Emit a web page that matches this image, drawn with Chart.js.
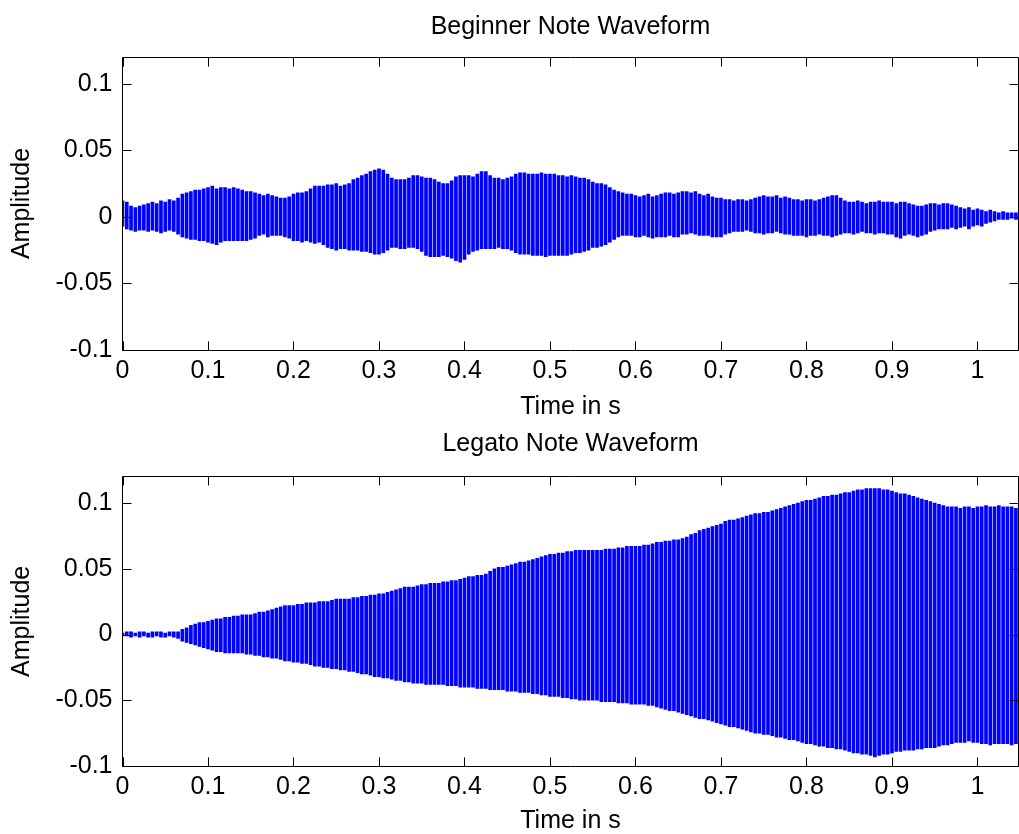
<!DOCTYPE html>
<html>
<head>
<meta charset="utf-8">
<title>Note Waveforms</title>
<script src="https://cdn.jsdelivr.net/npm/chart.js@4.4.1/dist/chart.umd.min.js"></script>
<style>
  html, body { margin: 0; padding: 0; background: #fff; }
  #wrap { position: relative; width: 1019px; height: 834px; }
  canvas { position: absolute; left: 0; }
</style>
</head>
<body>
<div id="wrap">
  <canvas id="beginner" width="1019" height="420" style="top:0"></canvas>
  <canvas id="legato" width="1019" height="414" style="top:420px"></canvas>
</div>
<script>
// upper / lower swing of each trace, every 5 ms
const sampleStep = 0.005;

const beginnerPeak = [
  0.012,0.011,0.008,0.007,0.008,0.009,0.010,0.011,0.010,0.012,0.011,0.013,0.012,0.014,0.017,0.018,0.019,0.020,0.020,0.021,
  0.022,0.023,0.021,0.022,0.022,0.021,0.022,0.021,0.020,0.019,0.019,0.018,0.017,0.016,0.017,0.016,0.015,0.014,0.014,0.015,
  0.017,0.018,0.018,0.019,0.021,0.023,0.023,0.023,0.024,0.024,0.025,0.023,0.024,0.025,0.028,0.029,0.031,0.032,0.034,0.035,
  0.036,0.035,0.032,0.029,0.028,0.028,0.028,0.029,0.031,0.031,0.030,0.029,0.029,0.028,0.026,0.025,0.025,0.027,0.030,0.031,
  0.031,0.031,0.030,0.032,0.034,0.034,0.031,0.029,0.029,0.028,0.029,0.030,0.032,0.033,0.033,0.032,0.032,0.032,0.033,0.032,
  0.032,0.032,0.031,0.031,0.030,0.031,0.030,0.029,0.029,0.028,0.026,0.025,0.025,0.024,0.022,0.020,0.019,0.018,0.017,0.017,
  0.016,0.015,0.016,0.017,0.015,0.016,0.017,0.018,0.018,0.017,0.018,0.019,0.019,0.018,0.019,0.017,0.016,0.017,0.015,0.014,
  0.014,0.013,0.013,0.012,0.013,0.013,0.012,0.013,0.014,0.015,0.016,0.015,0.015,0.016,0.014,0.015,0.014,0.013,0.013,0.012,
  0.013,0.013,0.012,0.013,0.014,0.015,0.016,0.016,0.014,0.012,0.011,0.011,0.012,0.011,0.010,0.011,0.011,0.012,0.011,0.011,
  0.011,0.010,0.011,0.011,0.010,0.009,0.008,0.008,0.009,0.010,0.010,0.009,0.010,0.010,0.009,0.008,0.007,0.006,0.007,0.005,
  0.006,0.005,0.004,0.005,0.004,0.003,0.004,0.003,0.003,0.003
];
const beginnerTrough = [
  -0.007,-0.009,-0.010,-0.011,-0.010,-0.010,-0.011,-0.010,-0.011,-0.012,-0.011,-0.010,-0.011,-0.013,-0.015,-0.016,-0.017,-0.017,-0.018,-0.018,
  -0.019,-0.020,-0.021,-0.019,-0.018,-0.018,-0.018,-0.018,-0.018,-0.018,-0.017,-0.016,-0.014,-0.013,-0.015,-0.014,-0.014,-0.014,-0.015,-0.016,
  -0.018,-0.018,-0.019,-0.018,-0.019,-0.020,-0.019,-0.021,-0.023,-0.024,-0.025,-0.024,-0.024,-0.025,-0.025,-0.025,-0.026,-0.026,-0.027,-0.028,
  -0.028,-0.027,-0.025,-0.023,-0.023,-0.024,-0.024,-0.023,-0.023,-0.024,-0.026,-0.029,-0.030,-0.030,-0.030,-0.029,-0.030,-0.031,-0.033,-0.034,
  -0.032,-0.028,-0.026,-0.025,-0.024,-0.024,-0.024,-0.024,-0.023,-0.024,-0.024,-0.025,-0.027,-0.028,-0.028,-0.028,-0.029,-0.029,-0.029,-0.030,
  -0.029,-0.029,-0.029,-0.029,-0.029,-0.028,-0.027,-0.027,-0.026,-0.025,-0.023,-0.023,-0.022,-0.021,-0.019,-0.017,-0.015,-0.014,-0.014,-0.014,
  -0.015,-0.015,-0.014,-0.015,-0.016,-0.015,-0.015,-0.015,-0.014,-0.015,-0.015,-0.013,-0.013,-0.012,-0.013,-0.014,-0.014,-0.014,-0.015,-0.015,
  -0.015,-0.013,-0.012,-0.011,-0.011,-0.011,-0.010,-0.011,-0.012,-0.012,-0.013,-0.012,-0.012,-0.011,-0.012,-0.013,-0.013,-0.014,-0.014,-0.014,
  -0.015,-0.014,-0.014,-0.013,-0.014,-0.014,-0.015,-0.014,-0.013,-0.012,-0.012,-0.013,-0.012,-0.011,-0.012,-0.012,-0.013,-0.012,-0.012,-0.013,
  -0.013,-0.015,-0.016,-0.014,-0.013,-0.014,-0.015,-0.014,-0.013,-0.011,-0.010,-0.009,-0.009,-0.009,-0.008,-0.009,-0.008,-0.007,-0.009,-0.007,
  -0.006,-0.007,-0.005,-0.004,-0.003,-0.002,-0.002,-0.002,-0.001,-0.002
];

const legatoPeak = [
  0.001,0.002,0.002,0.001,0.002,0.002,0.001,0.002,0.002,0.002,0.001,0.002,0.002,0.002,0.004,0.005,0.007,0.008,0.009,0.009,
  0.010,0.011,0.012,0.012,0.013,0.013,0.014,0.014,0.015,0.015,0.015,0.016,0.017,0.017,0.018,0.019,0.020,0.021,0.022,0.022,
  0.022,0.023,0.023,0.024,0.024,0.024,0.025,0.025,0.025,0.026,0.027,0.027,0.027,0.027,0.028,0.028,0.029,0.029,0.030,0.030,
  0.031,0.031,0.032,0.033,0.034,0.035,0.036,0.036,0.036,0.037,0.038,0.038,0.039,0.039,0.039,0.040,0.040,0.041,0.041,0.042,
  0.043,0.044,0.044,0.045,0.045,0.046,0.048,0.050,0.051,0.051,0.052,0.053,0.054,0.055,0.055,0.056,0.057,0.058,0.059,0.060,
  0.061,0.061,0.062,0.062,0.063,0.063,0.064,0.064,0.064,0.064,0.064,0.064,0.064,0.065,0.065,0.065,0.066,0.066,0.067,0.067,
  0.067,0.067,0.068,0.068,0.069,0.070,0.070,0.071,0.071,0.072,0.072,0.073,0.074,0.076,0.077,0.079,0.080,0.081,0.082,0.083,
  0.084,0.086,0.087,0.087,0.088,0.089,0.090,0.091,0.092,0.092,0.093,0.093,0.094,0.095,0.096,0.097,0.098,0.099,0.100,0.101,
  0.102,0.102,0.103,0.104,0.105,0.105,0.106,0.106,0.107,0.108,0.108,0.109,0.110,0.110,0.111,0.111,0.111,0.111,0.110,0.110,
  0.109,0.108,0.107,0.107,0.106,0.105,0.104,0.103,0.102,0.101,0.100,0.099,0.098,0.097,0.097,0.097,0.096,0.097,0.097,0.096,
  0.097,0.097,0.098,0.097,0.097,0.098,0.097,0.097,0.097,0.096
];
const legatoTrough = [
  -0.001,-0.001,-0.002,-0.001,-0.002,-0.001,-0.002,-0.002,-0.001,-0.002,-0.002,-0.001,-0.002,-0.003,-0.005,-0.006,-0.007,-0.008,-0.009,-0.010,
  -0.011,-0.012,-0.013,-0.013,-0.014,-0.014,-0.014,-0.014,-0.014,-0.015,-0.015,-0.016,-0.016,-0.017,-0.017,-0.018,-0.018,-0.019,-0.020,-0.020,
  -0.021,-0.021,-0.022,-0.022,-0.023,-0.024,-0.024,-0.025,-0.025,-0.026,-0.026,-0.027,-0.027,-0.028,-0.028,-0.029,-0.030,-0.030,-0.031,-0.032,
  -0.032,-0.033,-0.033,-0.034,-0.035,-0.035,-0.036,-0.036,-0.037,-0.037,-0.037,-0.038,-0.038,-0.038,-0.038,-0.038,-0.039,-0.039,-0.039,-0.040,
  -0.040,-0.040,-0.040,-0.041,-0.041,-0.041,-0.042,-0.042,-0.042,-0.042,-0.043,-0.043,-0.043,-0.044,-0.044,-0.044,-0.045,-0.045,-0.046,-0.046,
  -0.047,-0.047,-0.047,-0.048,-0.048,-0.049,-0.049,-0.050,-0.050,-0.050,-0.050,-0.050,-0.051,-0.051,-0.051,-0.051,-0.052,-0.052,-0.052,-0.053,
  -0.053,-0.053,-0.053,-0.054,-0.054,-0.055,-0.056,-0.057,-0.058,-0.058,-0.059,-0.060,-0.061,-0.062,-0.063,-0.064,-0.064,-0.065,-0.066,-0.067,
  -0.068,-0.069,-0.070,-0.070,-0.071,-0.072,-0.073,-0.074,-0.075,-0.075,-0.076,-0.076,-0.077,-0.078,-0.078,-0.079,-0.080,-0.080,-0.081,-0.082,
  -0.083,-0.083,-0.084,-0.085,-0.085,-0.086,-0.086,-0.087,-0.087,-0.088,-0.089,-0.090,-0.090,-0.091,-0.091,-0.092,-0.093,-0.092,-0.091,-0.091,
  -0.090,-0.089,-0.089,-0.088,-0.088,-0.088,-0.087,-0.087,-0.086,-0.086,-0.086,-0.085,-0.084,-0.084,-0.083,-0.082,-0.082,-0.082,-0.081,-0.082,
  -0.082,-0.083,-0.083,-0.084,-0.083,-0.083,-0.083,-0.083,-0.084,-0.083
];

const xTickValues = [0, 0.1, 0.2, 0.3, 0.4, 0.5, 0.6, 0.7, 0.8, 0.9, 1];
const xTickLabels = ['0', '0.1', '0.2', '0.3', '0.4', '0.5', '0.6', '0.7', '0.8', '0.9', '1'];
const yTickValues = [-0.1, -0.05, 0, 0.05, 0.1];
const yTickLabels = ['-0.1', '-0.05', '0', '0.05', '0.1'];

const sampleTimes = beginnerPeak.map((_, i) => +(i * sampleStep).toFixed(3));

Chart.defaults.font.family = '"Liberation Sans", Arial, sans-serif';
Chart.defaults.font.size = 25;
Chart.defaults.color = '#000';

// MATLAB style box with inward ticks on every side
const boxFrame = {
  id: 'boxFrame',
  afterDatasetsDraw(chart) {
    const { ctx, chartArea: a, scales } = chart;
    const L = Math.floor(a.left) + 0.5, R = Math.floor(a.right) + 0.5;
    const T = Math.floor(a.top) + 0.5, B = Math.floor(a.bottom) + 0.5;
    const len = 9;
    ctx.save();
    ctx.strokeStyle = '#000';
    ctx.lineWidth = 1;
    ctx.beginPath();
    ctx.rect(L, T, R - L, B - T);
    scales.x.ticks.forEach(t => {
      const px = Math.round(scales.x.getPixelForValue(t.value)) + 0.5;
      ctx.moveTo(px, B); ctx.lineTo(px, B - len);
      ctx.moveTo(px, T); ctx.lineTo(px, T + len);
    });
    scales.y.ticks.forEach(t => {
      const py = Math.round(scales.y.getPixelForValue(t.value)) + 0.5;
      ctx.moveTo(L, py); ctx.lineTo(L + len, py);
      ctx.moveTo(R, py); ctx.lineTo(R - len, py);
    });
    ctx.stroke();
    ctx.restore();
  }
};

function waveChart(id, title, peaks, troughs, box) {
  return new Chart(document.getElementById(id), {
    type: 'bar',
    data: {
      datasets: [{
        data: sampleTimes.map((t, i) => ({ x: t, y: [troughs[i], peaks[i]] })),
        backgroundColor: '#0000ff',
        borderWidth: 0,
        barThickness: 3,
        grouped: false
      }]
    },
    options: {
      responsive: false,
      animation: false,
      layout: { padding: { left: 0, right: 0.5, top: 0, bottom: 0 } },
      plugins: {
        legend: { display: false },
        tooltip: { enabled: false },
        title: {
          display: true,
          fullSize: false,
          text: title,
          color: '#000',
          font: { size: 25, weight: 'normal', lineHeight: 1 },
          padding: { top: box.titleTop, bottom: box.titleBottom }
        }
      },
      scales: {
        x: {
          type: 'linear',
          min: 0,
          max: 1.048,
          offset: false,
          grid: { display: false, drawTicks: false },
          border: { display: false },
          afterBuildTicks: s => { s.ticks = xTickValues.map(v => ({ value: v })); },
          ticks: { padding: 6, maxRotation: 0, autoSkip: false, callback: (v, i) => xTickLabels[i] },
          title: {
            display: true,
            text: 'Time in s',
            font: { size: 25, lineHeight: 1 },
            padding: { top: 0, bottom: box.xTitleBottom }
          },
          afterFit: s => { s.height = box.xAxisHeight; }
        },
        y: {
          min: -0.1,
          max: 0.12,
          grid: { display: false, drawTicks: false },
          border: { display: false },
          afterBuildTicks: s => { s.ticks = yTickValues.map(v => ({ value: v })); },
          ticks: { padding: 10, autoSkip: false, callback: (v, i) => yTickLabels[i] },
          title: {
            display: true,
            text: 'Amplitude',
            font: { size: 25, lineHeight: 1 },
            padding: { top: 9.5, bottom: 0 }
          },
          afterFit: s => { s.width = 122.5; }
        }
      }
    },
    plugins: [boxFrame]
  });
}

waveChart('beginner', 'Beginner Note Waveform', beginnerPeak, beginnerTrough,
  { titleTop: 14.5, titleBottom: 17.5, xAxisHeight: 70, xTitleBottom: 0.5 });
waveChart('legato', 'Legato Note Waveform', legatoPeak, legatoTrough,
  { titleTop: 11.5, titleBottom: 20.2, xAxisHeight: 68, xTitleBottom: 0 });
</script>
</body>
</html>
